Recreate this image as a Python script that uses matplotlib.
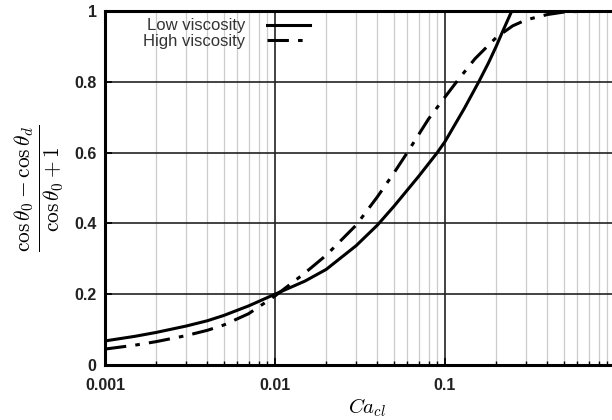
import matplotlib.pyplot as plt
from matplotlib.ticker import LogLocator, FixedLocator

plt.rcParams['mathtext.fontset'] = 'cm'
plt.rcParams['font.family'] = ['Liberation Sans', 'DejaVu Sans']

# data
ca_low = [0.001, 0.0015, 0.002, 0.003, 0.004, 0.005, 0.007, 0.01, 0.015,
          0.02, 0.03, 0.04, 0.05, 0.06, 0.07, 0.0894, 0.1, 0.13, 0.158,
          0.18, 0.2, 0.215, 0.247]
low_visc = [0.068, 0.081, 0.092, 0.11, 0.125, 0.14, 0.167, 0.2, 0.237,
            0.27, 0.337, 0.395, 0.448, 0.494, 0.533, 0.598, 0.631, 0.725,
            0.8, 0.853, 0.9, 0.935, 1.0]

ca_high = [0.001, 0.0015, 0.002, 0.003, 0.004, 0.005, 0.007, 0.01, 0.015,
           0.02, 0.03, 0.04, 0.05, 0.06, 0.08, 0.1, 0.117, 0.15, 0.2, 0.25,
           0.3, 0.4, 0.5, 0.7, 1.0]
high_visc = [0.045, 0.056, 0.066, 0.083, 0.098, 0.113, 0.145, 0.195, 0.26,
             0.31, 0.395, 0.475, 0.542, 0.6, 0.695, 0.757, 0.8, 0.865,
             0.925, 0.958, 0.975, 0.99, 0.997, 1.0, 1.0]

x_ticks = [0.001, 0.01, 0.1, 1]
x_labels = ['0.001', '0.01', '0.1', '']
y_ticks = [0, 0.2, 0.4, 0.6, 0.8, 1]
y_labels = ['0', '0.2', '0.4', '0.6', '0.8', '1']

fig = plt.figure(figsize=(6.12, 4.2), dpi=100)
# right edge of the axes runs past the figure, as in the cropped original
ax = fig.add_axes([105 / 612, 55 / 420, 510 / 612, 354 / 420])

ax.plot(ca_low, low_visc, color='black', lw=2.2, label='Low viscosity')
ax.plot(ca_high, high_visc, color='black', lw=2.2, dashes=(7, 3, 1.5, 3),
        label='High viscosity')

ax.set_xscale('log')
ax.set_xlim(0.001, 1)
ax.set_ylim(0, 1)
ax.xaxis.set_major_locator(FixedLocator(x_ticks))
ax.set_xticklabels(x_labels)
ax.xaxis.set_minor_locator(LogLocator(base=10, subs=range(2, 10)))
ax.set_yticks(y_ticks)
ax.set_yticklabels(y_labels)

ax.grid(which='major', color='#222222', lw=1.2)
ax.grid(which='minor', axis='x', color='#cccccc', lw=0.9)
ax.set_axisbelow(True)

ax.tick_params(which='both', direction='in', top=False, right=False,
               labelsize=11.5)
ax.tick_params(axis='x', pad=9)
ax.tick_params(axis='y', pad=6)
ax.tick_params(which='major', length=5, width=1.2)
ax.tick_params(which='minor', length=3, width=1)
for lbl in ax.get_xticklabels() + ax.get_yticklabels():
    lbl.set_fontweight('bold')
    lbl.set_color('#222222')

for s in ax.spines.values():
    s.set_linewidth(2.2)

ax.set_xlabel(r'$Ca_{cl}$', fontsize=15)
ax.xaxis.set_label_coords(0.514, -0.088)
ax.set_ylabel(r'$\frac{\cos\theta_0-\cos\theta_d}{\cos\theta_0+1}$',
              fontsize=22, labelpad=6)

leg = ax.legend(loc='upper left', bbox_to_anchor=(0.052, 1.012), frameon=False,
                markerfirst=False, fontsize=12, handlelength=2.6,
                borderpad=0.2, labelspacing=0.05, handletextpad=1.3)
for t in leg.get_texts():
    t.set_color('#333333')

fig.savefig('out.png', dpi=100)
